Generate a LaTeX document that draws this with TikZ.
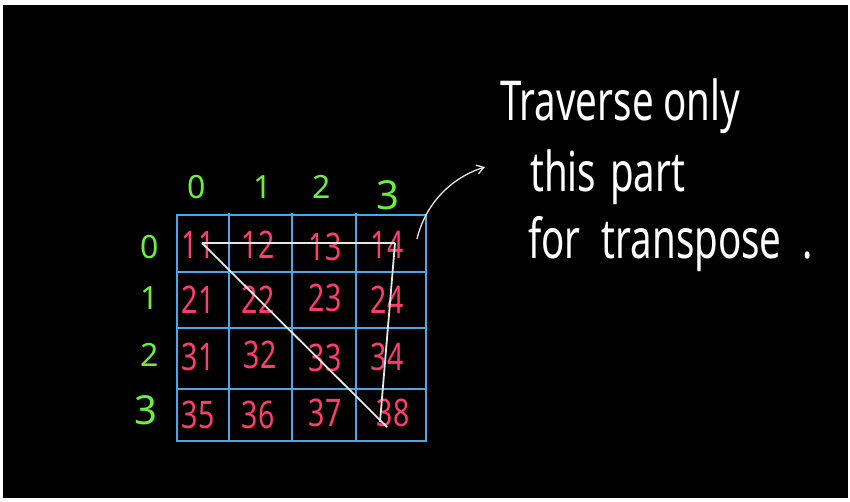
\documentclass[tikz,border=0pt]{standalone}
\usepackage{fontspec}
\setmainfont{Noto Sans}
\usetikzlibrary{arrows.meta}
\definecolor{gridblue}{HTML}{4DA6E6}
\definecolor{numpink}{HTML}{FF3D6E}
\definecolor{labgreen}{HTML}{6CF03C}
\definecolor{chalk}{HTML}{E6E6E6}
\tikzset{
  gridline/.style={draw=gridblue, line width=2pt},
  num/.style={text=numpink, font=\fontsize{38}{38}\selectfont, xscale=0.75, inner sep=0pt},
  lab/.style={text=labgreen, font=\fontsize{32}{32}\selectfont, inner sep=0pt},
  biglab/.style={text=labgreen, font=\fontsize{40}{40}\selectfont, inner sep=0pt},
  trav/.style={draw=chalk, line width=1.8pt},
  note/.style={text=white, font=\fontsize{55}{55}\selectfont, xscale=0.7, inner sep=0pt, anchor=base west},
}
\begin{document}
\begin{tikzpicture}[x=1pt,y=-1pt]
\useasboundingbox (0,0) rectangle (850,501);
\fill[white] (0,0) rectangle (850,501);
\fill[black] (3,5) rectangle (848,498);
% grid
\draw[gridline] (177,215) rectangle (426,441);
\foreach \x in {229,292,356} \draw[gridline] (\x,213) -- (\x,441);
\foreach \y in {272,328,389} \draw[gridline] (177,\y) -- (426,\y);
% column labels
\node[lab] (col0) at (197,187) {0};
\node[lab] (col1) at (263,187) {1};
\node[lab] (col2) at (322,187) {2};
\node[biglab] (col3) at (388,195) {3};
% row labels
\node[lab] (row0) at (150,247) {0};
\node[lab] (row1) at (150,298) {1};
\node[lab] (row2) at (150,355) {2};
\node[biglab] (row3) at (146,410) {3};
% cells
\node[num] (c11) at (198,245) {11};
\node[num] (c12) at (258,245) {12};
\node[num] (c13) at (325,247) {13};
\node[num] (c14) at (387,245) {14};
\node[num] (c21) at (198,300) {21};
\node[num] (c22) at (258,300) {22};
\node[num] (c23) at (325,298) {23};
\node[num] (c24) at (387,300) {24};
\node[num] (c31) at (198,357) {31};
\node[num] (c32) at (260,355) {32};
\node[num] (c33) at (325,358) {33};
\node[num] (c34) at (387,357) {34};
\node[num] (c35) at (198,415) {35};
\node[num] (c36) at (258,415) {36};
\node[num] (c37) at (325,413) {37};
\node[num] (c38) at (393,413) {38};
% traversal triangle
\coordinate (p11) at (202,243);
\coordinate (p14) at (395,243);
\coordinate (p38a) at (387,427);
\coordinate (p38b) at (380,422);
\draw[trav] (p11) -- (p14);
\draw[trav] (p11) -- (p38a);
\draw[trav] (p14) -- (p38b);
% annotation
\coordinate (astart) at (417,239);
\coordinate (aend) at (485,167);
\draw[draw=chalk, line width=1.3pt, -{Straight Barb[length=7pt,width=9pt]}] (astart) .. controls (425,205) and (450,178) .. (aend);
\node[note] (t1) at (500,120) {Traverse only};
\node[note] (t2) at (530,191) {this\hspace{20pt}part};
\node[note] (t3) at (528,258) {for\hspace{30pt}transpose\hspace{30pt}.};
\end{tikzpicture}
\end{document}
